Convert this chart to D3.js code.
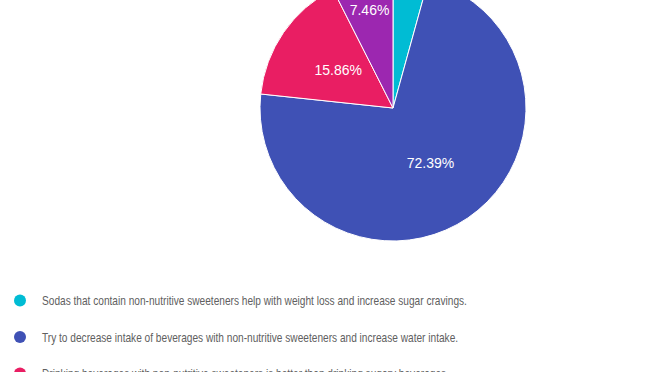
<!DOCTYPE html>
<html>
<head>
<meta charset="utf-8">
<script src="https://cdn.jsdelivr.net/npm/d3@7"></script>
<style>
  body { margin: 0; background: #fff; }
  svg { display: block; font-family: Arial, "Liberation Sans", sans-serif; }
</style>
</head>
<body>
<div class="chart"></div>
<script>
var labels = [
  "Sodas that contain non-nutritive sweeteners help with weight loss and increase sugar cravings.",
  "Try to decrease intake of beverages with non-nutritive sweeteners and increase water intake.",
  "Drinking beverages with non-nutritive sweeteners is better than drinking sugary beverages.",
  "Other"
];
var values = [4.29, 72.39, 15.86, 7.46];
var colors = ["#00bcd4", "#3f51b5", "#e91e63", "#9c27b0"];

var width = 672, height = 372;
var cx = 393, cy = 108, radius = 133;

var svg = d3.select(".chart")
    .append("svg")
    .attr("width", width)
    .attr("height", height);

var pie = d3.pie().sort(null).value(function(d) { return d; });
var arcs = pie(values);
var arc = d3.arc().innerRadius(0).outerRadius(radius);

var g = svg.append("g").attr("transform", "translate(" + cx + "," + cy + ")");

g.selectAll("path")
    .data(arcs)
    .enter().append("path")
    .attr("d", arc)
    .attr("fill", function(d, i) { return colors[i]; })
    .attr("stroke", "#fff")
    .attr("stroke-width", 1);

// small slices push their label outward, big ones sit about halfway in
g.selectAll("text")
    .data(arcs.filter(function(d) { return d.data >= 5; }))
    .enter().append("text")
    .attr("transform", function(d) {
      var r = d.data < 10 ? radius * 0.76 : radius * 0.5;
      var c = d3.arc().innerRadius(r).outerRadius(r).centroid(d);
      return "translate(" + c + ")";
    })
    .attr("text-anchor", "middle")
    .attr("dy", "0.35em")
    .attr("fill", "#fff")
    .attr("font-size", 14)
    .text(function(d) { return d.data.toFixed(2) + "%"; });

var legend = svg.append("g");
var rowY = d3.scaleLinear().domain([0, 1]).range([300.5, 337]);

var item = legend.selectAll("g")
    .data(labels.slice(0, 3))
    .enter().append("g")
    .attr("transform", function(d, i) { return "translate(0," + rowY(i) + ")"; });

item.append("circle")
    .attr("cx", 20)
    .attr("r", 6)
    .attr("fill", function(d, i) { return colors[i]; });

// the legend text in the source is squeezed sideways
item.append("text")
    .attr("transform", "translate(42,0) scale(0.78,1)")
    .attr("dy", "0.35em")
    .attr("fill", "#606060")
    .attr("font-size", 13)
    .text(function(d) { return d; });
</script>
</body>
</html>
